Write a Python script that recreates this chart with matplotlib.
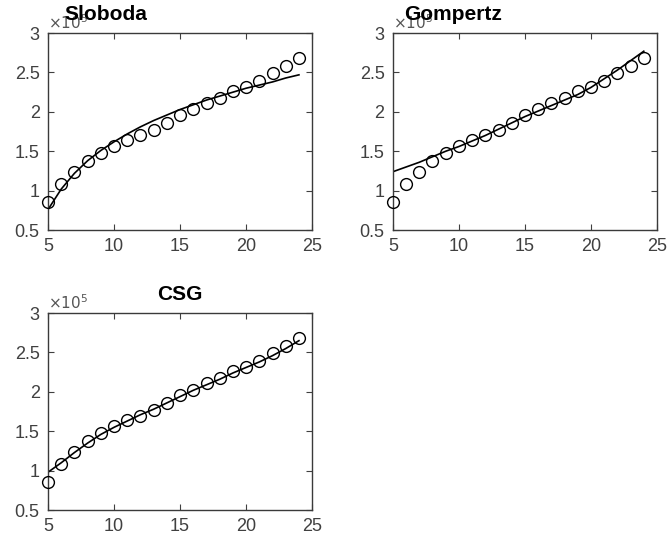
import numpy as np
import matplotlib
matplotlib.use("Agg")
import matplotlib.pyplot as plt
from matplotlib.ticker import FuncFormatter

plt.rcParams["font.family"] = ["Liberation Sans", "DejaVu Sans"]

# ----------------------- Data (y in units of 1e5) -----------------------
SCALE = 1e5
x_obs = [5, 6, 7, 8, 9, 10, 11, 12, 13, 14, 15, 16, 17, 18, 19, 20, 21, 22, 23, 24]
y_obs = [0.86, 1.09, 1.24, 1.38, 1.48, 1.57, 1.64, 1.70, 1.77, 1.86,
         1.96, 2.03, 2.11, 2.17, 2.26, 2.32, 2.39, 2.49, 2.58, 2.69]

fit_sloboda = [0.76, 1.02, 1.22, 1.38, 1.51, 1.62, 1.72, 1.81, 1.89, 1.96,
               2.03, 2.09, 2.15, 2.20, 2.25, 2.30, 2.34, 2.38, 2.43, 2.47]
fit_gompertz = [1.24, 1.30, 1.36, 1.43, 1.50, 1.56, 1.63, 1.70, 1.78, 1.86,
                1.94, 2.01, 2.08, 2.15, 2.22, 2.31, 2.42, 2.53, 2.65, 2.77]
fit_csg = [0.98, 1.10, 1.23, 1.35, 1.46, 1.55, 1.63, 1.71, 1.78, 1.86,
           1.94, 2.02, 2.09, 2.16, 2.24, 2.31, 2.38, 2.46, 2.55, 2.65]

panels = [
    ("Sloboda", fit_sloboda, [0.072, 0.5795, 0.396, 0.360], 0.22),
    ("Gompertz", fit_gompertz, [0.589, 0.5795, 0.396, 0.360], 0.227),
    ("CSG", fit_csg, [0.072, 0.0676, 0.396, 0.360], 0.5),
]

fig = plt.figure(figsize=(6.67, 5.47), dpi=100)
grey = "#404040"

for title, fit, rect, tx in panels:
    ax = fig.add_axes(rect)
    ax.plot(x_obs, np.array(fit) * SCALE, color="black", lw=1.2, zorder=2)
    ax.plot(x_obs, np.array(y_obs) * SCALE, linestyle="none", marker="o",
            markersize=8.5, markerfacecolor="none", markeredgecolor="black",
            markeredgewidth=1.0, zorder=3, clip_on=False)
    ax.set_xlim(5, 25)
    ax.set_ylim(0.5 * SCALE, 3 * SCALE)
    ax.set_xticks([5, 10, 15, 20, 25])
    ax.set_yticks(np.arange(0.5, 3.01, 0.5) * SCALE)
    ax.yaxis.set_major_formatter(FuncFormatter(lambda v, p: f"{v / SCALE:g}"))
    ax.tick_params(direction="in", top=True, right=True, length=4,
                   width=0.8, labelsize=13, colors=grey, pad=6)
    for sp in ax.spines.values():
        sp.set_color("#3a3a3a")
        sp.set_linewidth(1.0)
    ax.text(0.0, 1.005, r"$\times10^5$", transform=ax.transAxes,
            fontsize=11, color="#555555", ha="left", va="bottom", zorder=1)
    ax.set_title(title, x=tx, fontsize=15, fontweight="bold", pad=9.5, zorder=5)

fig.savefig("out.png", dpi=100)
